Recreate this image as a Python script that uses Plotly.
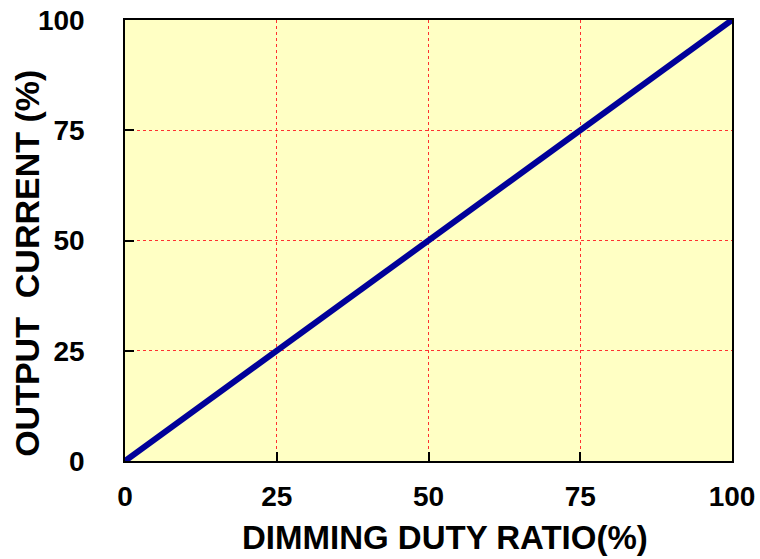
import plotly.graph_objects as go

duty_ratio = [0, 25, 50, 75, 100]
output_current = [0, 25, 50, 75, 100]
tick_vals = [0, 25, 50, 75, 100]
tick_text = ["0", "25", "50", "75", "100"]
x_title = "DIMMING DUTY RATIO(%)"
y_title = "OUTPUT&nbsp;&nbsp;CURRENT (%)"

FAMILY = "Liberation Sans, Arial"
tick_font = dict(family=FAMILY, size=28, color="black", weight="bold")
x_title_font = dict(family=FAMILY, size=33, color="black", weight="bold")
y_title_font = dict(family=FAMILY, size=34, color="black", weight="bold")

fig = go.Figure()
fig.add_trace(go.Scatter(
    x=duty_ratio, y=output_current, mode="lines",
    line=dict(color="#000099", width=6), hoverinfo="skip", cliponaxis=False,
))

axis_common = dict(
    range=[0, 100], tickvals=tick_vals, ticktext=tick_text,
    showgrid=True, gridcolor="#FF3030", griddash="dot", gridwidth=1,
    ticks="inside", ticklen=9, tickcolor="black", tickwidth=1.5,
    showline=True, linecolor="black", linewidth=1.5, mirror=True,
    zeroline=False, tickfont=tick_font, automargin=False,
    ticklabeloverflow="allow",
)

fig.update_layout(
    width=760, height=559,
    margin=dict(l=125, r=28, t=20, b=98),
    paper_bgcolor="white", plot_bgcolor="#FFFFC4",
    showlegend=False,
    xaxis=dict(**axis_common, ticklabelstandoff=10),
    yaxis=dict(**axis_common, ticklabelstandoff=33),
)

fig.add_annotation(
    text=x_title, font=x_title_font, showarrow=False,
    xref="paper", yref="paper", x=0.527, y=0, yshift=-76,
    xanchor="center", yanchor="middle",
)
fig.add_annotation(
    text=y_title, font=y_title_font, showarrow=False, textangle=-90,
    xref="paper", yref="paper", x=0, xshift=-98, y=0.447,
    xanchor="center", yanchor="middle",
)

fig.write_html(
    "out.html",
    config={"displayModeBar": False},
    post_script="document.body.style.margin='0';document.body.style.overflow='hidden';",
)
